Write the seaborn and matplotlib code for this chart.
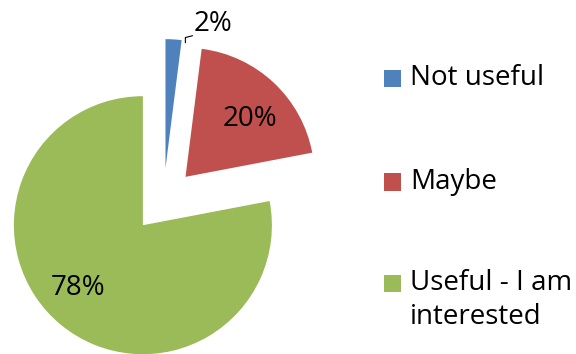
import matplotlib
matplotlib.use("Agg")
import matplotlib.pyplot as plt
from matplotlib.patches import Rectangle
import seaborn as sns

categories = ["Not useful", "Maybe", "Useful - I am\ninterested"]
values = [2, 20, 78]
colors = ["#4F81BD", "#C0504D", "#9BBB59"]

sns.set_theme(style="white")
plt.rcParams["font.family"] = ["Open Sans", "DejaVu Sans"]

W, H = 576, 354
fig = plt.figure(figsize=(W / 100, H / 100), dpi=100)
ax = fig.add_axes([0, 0, 1, 1])

wedges, texts, autotexts = ax.pie(
    values, colors=colors, startangle=90, counterclock=False,
    explode=[0.25] * len(values), radius=1,
    autopct="%1.0f%%", pctdistance=0.7,
    wedgeprops=dict(linewidth=0),
    textprops=dict(fontsize=20, color="black"),
)
ax.set_xlim(-1.267, 3.198)
ax.set_ylim(-1.191, 1.553)
ax.set_aspect("auto")
ax.axis("off")

# label positions (data units)
label_pos = [(0.384, 1.37), (0.671, 0.63), (-0.665, -0.68)]
for t, (x, y) in zip(autotexts, label_pos):
    t.set_position((x, y))
    t.set_ha("center")
    t.set_va("center")
# leader line for the small slice
ax.plot([0.170, 0.170, 0.225], [1.222, 1.262, 1.276], color="black", lw=0.8)

# legend
rows_y = [78, 182, 283]
for cat, col, yc in zip(categories, colors, rows_y):
    fig.patches.append(Rectangle((384 / W, 1 - (yc + 8.5) / H), 17 / W, 17 / H,
                                 transform=fig.transFigure, facecolor=col,
                                 edgecolor="none"))
    lines = cat.split("\n")
    for i, ln in enumerate(lines):
        fig.text(410 / W, 1 - (yc + 34 * i) / H, ln, fontsize=20,
                 ha="left", va="center", color="black")

fig.savefig("out.png", dpi=100)
